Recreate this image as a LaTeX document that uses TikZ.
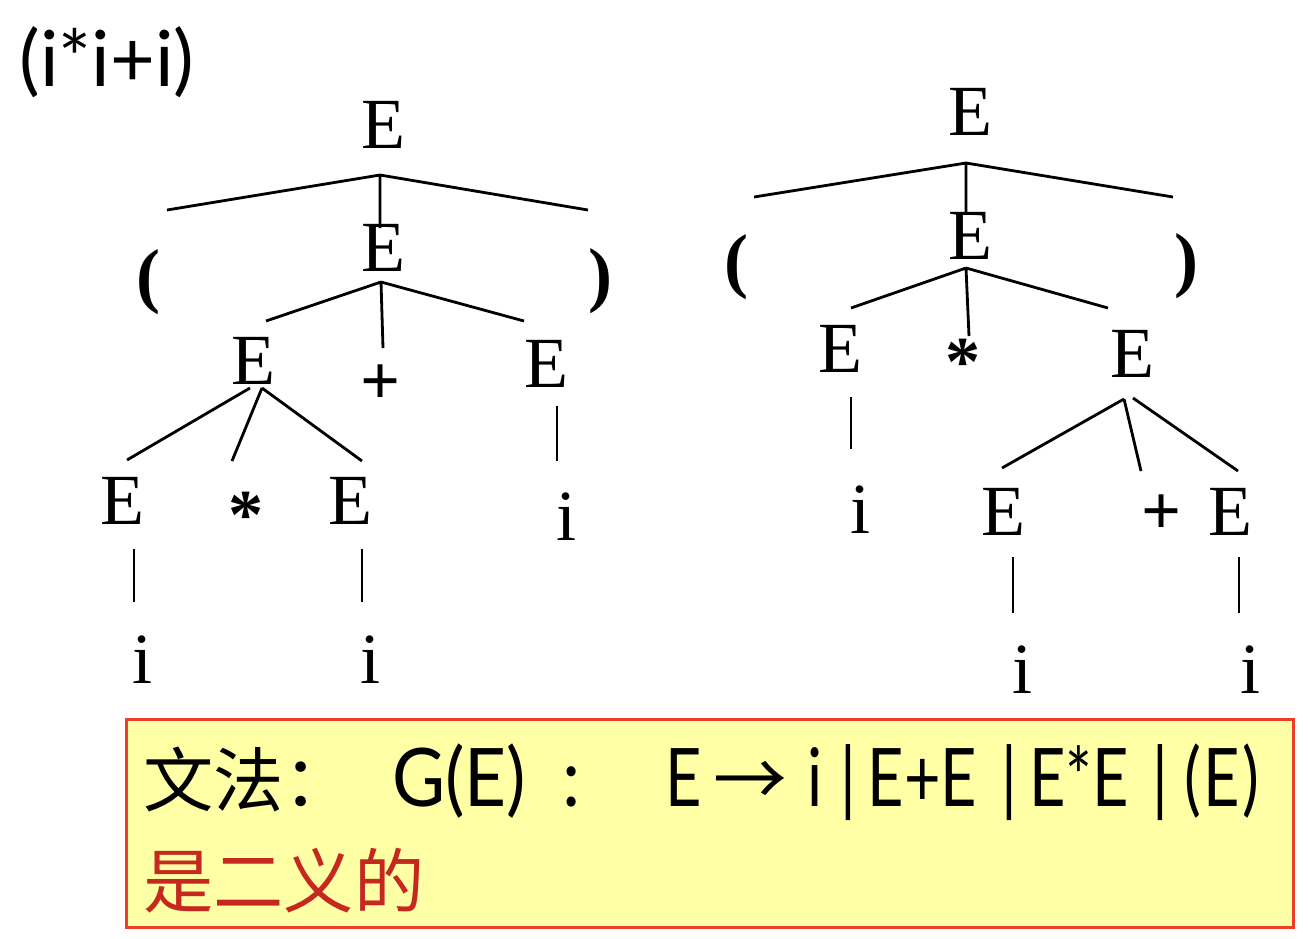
\documentclass[tikz,border=0pt]{standalone}
\usepackage{fontspec}
\setmainfont{Liberation Serif}
\newfontfamily\latinsans{Lato}
\newfontfamily\cjk{Noto Sans CJK SC}
\usepackage{tikz}
\usetikzlibrary{positioning}
\definecolor{boxfill}{HTML}{FFFFA6}
\definecolor{boxline}{HTML}{E8402A}
\definecolor{ambred}{HTML}{C4281E}
\newcommand{\narrowtxt}[2][0.78]{\scalebox{#1}[1]{#2}}

\begin{document}
\begin{tikzpicture}[
    x=0.02cm,y=-0.02cm,
    sym/.style={inner sep=0pt,font=\fontsize{41}{41}\selectfont},
    opsym/.style={inner sep=0pt,font=\fontsize{40}{40}\selectfont\bfseries},
    paren/.style={inner sep=0pt,font=\fontsize{41}{41}\selectfont\bfseries},
    branch/.style={line width=1.6pt},
    boxtext/.style={inner sep=0pt,anchor=base west,font=\latinsans\fontsize{46}{46}\selectfont}
]
    \useasboundingbox (0,0) rectangle (1308,938);

    % Sentence
    \node[inner sep=0pt,font=\latinsans\fontsize{44}{44}\selectfont] (sent) at (107,62) {(i*i+i)};

    % Left tree: E -> ( E ), E -> E + E, E -> E * E
    \node[sym] (lE0) at (383,125) {E};
    \node[paren] (lLp) at (148,282) {(};
    \node[sym] (lE1) at (383,248) {E};
    \node[paren] (lRp) at (600,281) {)};
    \node[sym] (lE2) at (253,361) {E};
    \node[opsym] (lPlus) at (381,385) {+};
    \node[sym] (lE3) at (546,364) {E};
    \node[sym] (lE4) at (123,501) {E};
    \node[opsym] (lStar) at (246,515) {*};
    \node[sym] (lE5) at (350,501) {E};
    \node[sym] (lI3) at (566,517) {i};
    \node[sym] (lI4) at (143,660) {i};
    \node[sym] (lI5) at (371,660) {i};

    % Right tree: E -> ( E ), E -> E * E, E -> E + E
    \node[sym] (rE0) at (970,112) {E};
    \node[paren] (rLp) at (736,267) {(};
    \node[sym] (rE1) at (970,236) {E};
    \node[paren] (rRp) at (1186,266) {)};
    \node[sym] (rE2) at (840,349) {E};
    \node[opsym] (rStar) at (963,362) {*};
    \node[sym] (rE3) at (1132,354) {E};
    \node[sym] (rI2) at (860,510) {i};
    \node[sym] (rE4) at (1003,512) {E};
    \node[opsym] (rPlus) at (1162,515) {+};
    \node[sym] (rE5) at (1230,512) {E};
    \node[sym] (rI4) at (1022,670) {i};
    \node[sym] (rI5) at (1250,670) {i};

    % Branch ends, left tree
    \coordinate (lJ0) at (380,175);
    \coordinate (lLpT) at (167,210);
    \coordinate (lE1T) at (380,228);
    \coordinate (lRpT) at (588,210);
    \coordinate (lJ1) at (381,282);
    \coordinate (lE2T) at (266,321);
    \coordinate (lPlusT) at (383,348);
    \coordinate (lE3T) at (524,321);
    \coordinate (lJ2) at (250,388);
    \coordinate (lJ2b) at (262,388);
    \coordinate (lE4T) at (127,460);
    \coordinate (lStarT) at (232,461);
    \coordinate (lE5T) at (362,461);
    \coordinate (lE3B) at (557,406);
    \coordinate (lI3T) at (557,461);
    \coordinate (lE4B) at (134,549);
    \coordinate (lI4T) at (134,602);
    \coordinate (lE5B) at (362,549);
    \coordinate (lI5T) at (362,602);

    % Branch ends, right tree
    \coordinate (rJ0) at (966,163);
    \coordinate (rLpT) at (754,197);
    \coordinate (rE1T) at (966,214);
    \coordinate (rRpT) at (1173,197);
    \coordinate (rJ1) at (966,268);
    \coordinate (rE2T) at (851,308);
    \coordinate (rStarT) at (969,336);
    \coordinate (rE3T) at (1108,308);
    \coordinate (rE2B) at (851,397);
    \coordinate (rI2T) at (851,449);
    \coordinate (rJ3) at (1124,399);
    \coordinate (rJ3b) at (1133,398);
    \coordinate (rE4T) at (1002,468);
    \coordinate (rPlusT) at (1141,471);
    \coordinate (rE5T) at (1238,471);
    \coordinate (rE4B) at (1013,557);
    \coordinate (rI4T) at (1013,613);
    \coordinate (rE5B) at (1239,557);
    \coordinate (rI5T) at (1239,613);

    % Branches
    \draw[branch] (lJ0) -- (lLpT) (lJ0) -- (lE1T) (lJ0) -- (lRpT);
    \draw[branch] (lJ1) -- (lE2T) (lJ1) -- (lPlusT) (lJ1) -- (lE3T);
    \draw[branch] (lJ2) -- (lE4T) (lJ2b) -- (lStarT) (lJ2b) -- (lE5T);
    \draw[branch] (lE3B) -- (lI3T) (lE4B) -- (lI4T) (lE5B) -- (lI5T);
    \draw[branch] (rJ0) -- (rLpT) (rJ0) -- (rE1T) (rJ0) -- (rRpT);
    \draw[branch] (rJ1) -- (rE2T) (rJ1) -- (rStarT) (rJ1) -- (rE3T);
    \draw[branch] (rJ3) -- (rE4T) (rJ3) -- (rPlusT) (rJ3b) -- (rE5T);
    \draw[branch] (rE2B) -- (rI2T) (rE4B) -- (rI4T) (rE5B) -- (rI5T);

    % Grammar box
    \node[draw=boxline,fill=boxfill,line width=1.8pt,anchor=north west,inner sep=0pt,
          minimum width=23.34cm,minimum height=4.16cm] (gbox) at (125,718) {};
    \node[boxtext,font=\cjk\fontsize{40}{40}\selectfont] (gram) at (143,806) {文法：};
    \node[boxtext] (gname) at (392,806) {\narrowtxt[0.9]{G(E)\hspace{0.5em}:}};
    \node[boxtext] (prod) at (665,806)
        {\narrowtxt{E}\hspace{0.15em}{\cjk\fontsize{42}{42}\selectfont →}\hspace{0.25em}%
         \narrowtxt{i\hspace{0.27em}|\hspace{0.19em}E+E\hspace{0.38em}|\hspace{0.19em}E*E\hspace{0.38em}|\hspace{0.25em}(\hspace{0.04em}E\hspace{0.04em})}};
    \node[boxtext,text=ambred,font=\cjk\fontsize{40}{40}\selectfont] (ambig) at (143,907) {是二义的};
\end{tikzpicture}
\end{document}
